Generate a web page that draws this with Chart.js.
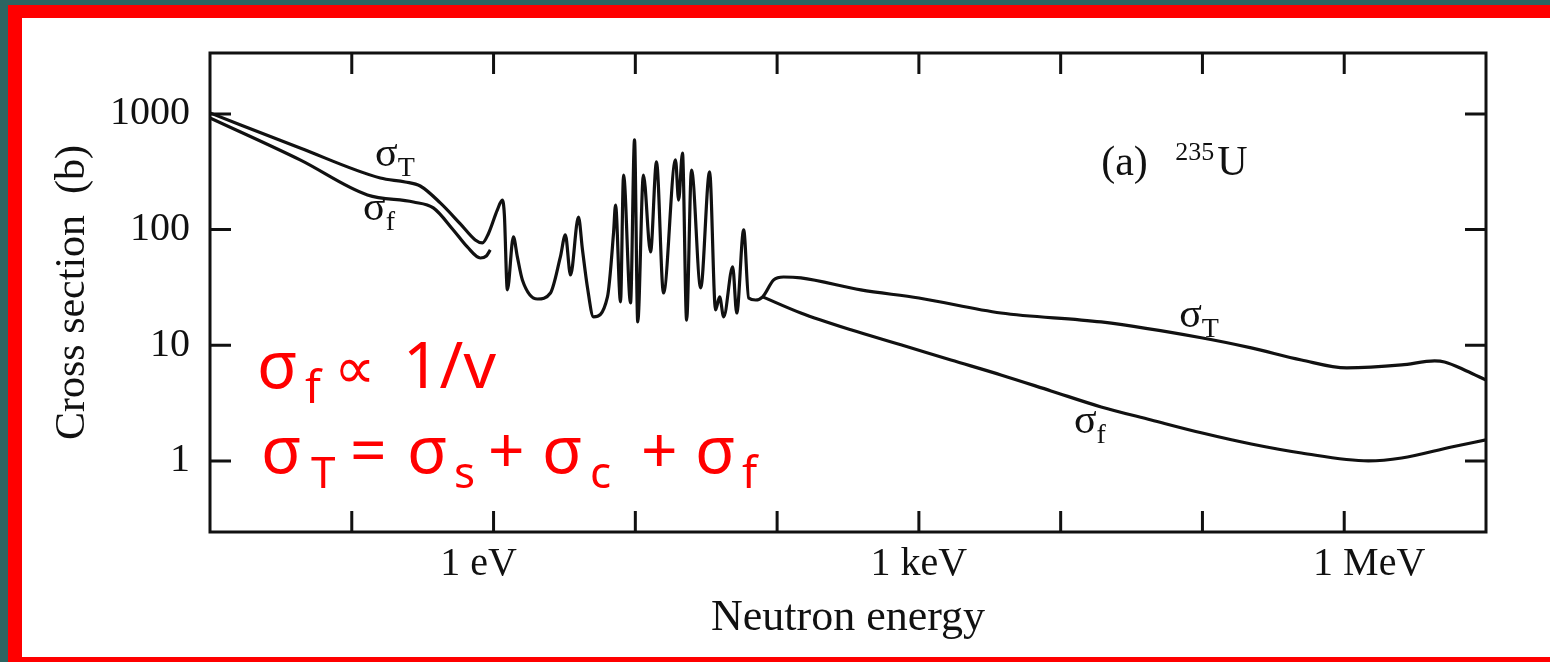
<!DOCTYPE html>
<html>
<head>
<meta charset="utf-8">
<script src="https://cdn.jsdelivr.net/npm/chart.js@4.4.1/dist/chart.umd.min.js"></script>
<style>
  html, body { margin: 0; padding: 0; }
  body { width: 1550px; height: 662px; overflow: hidden; background: #2c6562; position: relative; }
  .frame {
    position: absolute; left: 8px; top: 5px; width: 1600px; height: 639px; background: #fff;
    border-style: solid; border-color: #ff0000; border-width: 13px 0 14px 14px;
  }
  canvas { position: absolute; left: 0; top: 0; }
</style>
</head>
<body>
<div class="frame"></div>
<canvas id="chart" width="1550" height="662"></canvas>
<script>
// neutron energy (eV) and cross section (barn)
const totalEnergy = [0.01, 0.0432, 0.159, 0.238, 0.304, 0.421, 0.583, 0.743, 0.834, 0.918,
  1.064, 1.153, 1.192, 1.251, 1.38, 1.472, 1.597, 2.04, 2.52, 2.96, 3.21, 3.49, 3.97, 4.24, 4.59,
  5.07, 6.36, 7.02, 7.25, 7.86, 8.26, 9.25, 9.87, 10.4, 11.4, 12.8, 14.1, 15.8, 19.2, 20.2, 21.5,
  23.0, 24.9, 28.9, 33.4, 36.8, 39.3, 42.0, 48.6, 51.9, 58.1, 63.0, 70.6, 79.1, 94.6, 111, 147,
  389, 1000, 3790, 19300, 98100, 2.21e5, 4.99e5, 1.04e6, 2.54e6, 4.34e6, 5.1e6, 7.3e6, 1e7];
const totalXs = [1020, 507, 279, 258, 238, 170, 112, 81.3, 76.6, 91.6,
  148, 180, 134, 30.1, 86.3, 58.0, 36.7, 25.1, 28.3, 58.0, 89.8, 40.5, 128, 66.6, 31.9,
  17.6, 26.2, 93.5, 163, 23.7, 296, 23.2, 595, 15.9, 296, 64.0, 384, 28.3, 400, 180, 459,
  16.5, 327, 31.3, 315, 20.2, 26.2, 17.6, 47.5, 19.0, 99.3, 25.6, 24.6, 26.2, 36.7, 38.9, 38.2,
  30.1, 25.6, 19.0, 15.9, 11.6, 9.48, 7.46, 6.37, 6.76, 7.32, 7.17, 6.0, 5.0];

const fissionLowEnergy = [0.01, 0.0432, 0.129, 0.272, 0.376, 0.52, 0.653, 0.807, 0.889, 0.948];
const fissionLowXs = [922, 400, 199, 173, 154, 99.3, 70.7, 56.8, 59.1, 66.6];

const fissionHighEnergy = [79.1, 147, 331, 746, 1683, 3790, 8550, 19300, 43500, 98100,
  2.21e5, 4.99e5, 1.48e6, 2.54e6, 5.71e6, 1e7];
const fissionHighXs = [26.2, 19.0, 13.6, 10.1, 7.46, 5.54, 4.03, 2.93, 2.26, 1.75,
  1.40, 1.17, 1.00, 1.06, 1.32, 1.52];

const yTicks = [1, 10, 100, 1000];
const yTickLabels = ['1', '10', '100', '1000'];
const xTicks = [1, 1e3, 1e6];
// the figure sets "1 eV" a little left of its tick and "1 MeV" a little right
const xTickLabels = ['1 eV   ', '1 keV', '     1 MeV'];

const serif = "'Liberation Serif', 'Times New Roman', serif";
const sans = "'Noto Sans', 'DejaVu Sans', sans-serif";
const ink = '#111';
const tickLen = 21;

const toPoints = (xs, ys) => xs.map((x, i) => ({ x, y: ys[i] }));

// curve labels, placed in data coordinates (left edge of the sigma, baseline)
const curveLabels = [
  { sub: 'T', e: 0.146, xs: 355 },
  { sub: 'f', e: 0.12, xs: 121 },
  { sub: 'T', e: 68500, xs: 14.4 },
  { sub: 'f', e: 12400, xs: 1.75 }
];

function drawSigma(ctx, x, y, sub) {
  ctx.font = `42px ${serif}`;
  ctx.fillText('σ', x, y);
  const w = ctx.measureText('σ').width;
  ctx.font = `28px ${serif}`;
  ctx.fillText(sub, x + w, y + 10);
}

// red slide notes: [text, x, baseline, size]
const noteRuns = [
  ['σ', 257, 388, 66], ['f', 305, 403, 46], ['∝', 334, 388, 58], ['1/v', 403, 388, 64],
  ['σ', 261, 473, 66], ['T', 311, 488, 44], ['=', 350, 473, 64],
  ['σ', 407, 473, 66], ['s', 454, 488, 44], ['+', 488, 473, 64],
  ['σ', 542, 473, 66], ['c', 590, 488, 44], ['+', 641, 473, 64],
  ['σ', 695, 473, 66], ['f', 742, 488, 44]
];

const frameTicks = {
  id: 'frameTicks',
  afterDatasetsDraw(chart) {
    const { ctx, chartArea: a, scales: { x, y } } = chart;
    ctx.save();
    ctx.strokeStyle = ink;
    ctx.lineWidth = 3;
    ctx.strokeRect(a.left, a.top, a.right - a.left, a.bottom - a.top);
    ctx.beginPath();
    const lo = Math.ceil(Math.log10(x.min)), hi = Math.floor(Math.log10(x.max));
    for (let e = lo; e <= hi; e++) {
      const px = x.getPixelForValue(10 ** e);
      if (px <= a.left + 2 || px >= a.right - 2) continue;
      ctx.moveTo(px, a.bottom); ctx.lineTo(px, a.bottom - tickLen);
      ctx.moveTo(px, a.top); ctx.lineTo(px, a.top + tickLen);
    }
    yTicks.forEach(v => {
      const py = y.getPixelForValue(v);
      ctx.moveTo(a.left, py); ctx.lineTo(a.left + tickLen, py);
      ctx.moveTo(a.right, py); ctx.lineTo(a.right - tickLen, py);
    });
    ctx.stroke();

    ctx.fillStyle = ink;
    ctx.textBaseline = 'alphabetic';
    ctx.textAlign = 'left';
    curveLabels.forEach(l => {
      drawSigma(ctx, x.getPixelForValue(l.e), y.getPixelForValue(l.xs), l.sub);
    });

    // isotope tag
    const tx = x.getPixelForValue(19300), ty = y.getPixelForValue(296);
    ctx.font = `42px ${serif}`;
    ctx.fillText('(a)', tx, ty);
    ctx.font = `26px ${serif}`;
    ctx.fillText('235', tx + 74, ty - 15);
    ctx.font = `42px ${serif}`;
    ctx.fillText('U', tx + 116, ty);

    ctx.fillStyle = '#ff0000';
    noteRuns.forEach(([t, nx, ny, size]) => {
      ctx.font = `${size}px ${sans}`;
      ctx.fillText(t, nx, ny);
    });
    ctx.restore();
  }
};

const lineStyle = { borderColor: ink, borderWidth: 3.2, pointRadius: 0, fill: false, cubicInterpolationMode: 'monotone' };

new Chart(document.getElementById('chart'), {
  type: 'line',
  data: {
    datasets: [
      { label: 'σT', data: toPoints(totalEnergy, totalXs), ...lineStyle },
      { label: 'σf', data: toPoints(fissionLowEnergy, fissionLowXs), ...lineStyle },
      { label: 'σf', data: toPoints(fissionHighEnergy, fissionHighXs), ...lineStyle }
    ]
  },
  options: {
    responsive: false,
    animation: false,
    layout: { padding: { top: 53, right: 64, bottom: 0, left: 0 } },
    plugins: { legend: { display: false }, tooltip: { enabled: false } },
    scales: {
      x: {
        type: 'logarithmic',
        min: 0.01,
        max: 1e7,
        grid: { display: false, drawTicks: false },
        border: { display: false },
        afterBuildTicks: s => { s.ticks = xTicks.map(v => ({ value: v })); },
        afterFit: s => { s.height = 130; },
        ticks: {
          autoSkip: false, maxRotation: 0, padding: 8, color: ink,
          font: { family: serif, size: 40 },
          callback: (v, i) => xTickLabels[i]
        },
        title: {
          display: true, text: 'Neutron energy', color: ink,
          font: { family: serif, size: 44 },
          padding: { top: 0, bottom: 17 }
        }
      },
      y: {
        type: 'logarithmic',
        min: 0.243,
        max: 3360,
        grid: { display: false, drawTicks: false },
        border: { display: false },
        afterBuildTicks: s => { s.ticks = yTicks.map(v => ({ value: v })); },
        afterFit: s => { s.width = 210; },
        ticks: {
          autoSkip: false, padding: 20, color: ink,
          font: { family: serif, size: 40 },
          callback: (v, i) => yTickLabels[i]
        },
        title: {
          display: true, text: 'Cross section  (b)', color: ink,
          font: { family: serif, size: 42 },
          padding: { top: 48, bottom: 0 }
        }
      }
    }
  },
  plugins: [frameTicks]
});
</script>
</body>
</html>
